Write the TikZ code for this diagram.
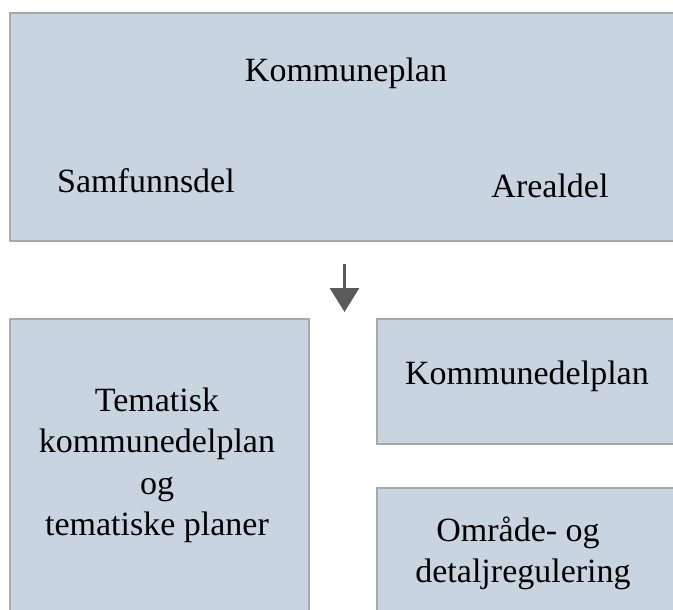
\documentclass[tikz,border=0pt]{standalone}
\usepackage{fontspec}
\setmainfont{Liberation Serif}
\usetikzlibrary{arrows.meta}
\definecolor{boxfill}{HTML}{C8D5E0}
\definecolor{boxline}{HTML}{A8A8A8}
\definecolor{arrowgray}{HTML}{5A5A5A}
\tikzset{
  planbox/.style={draw=boxline, line width=2pt, fill=boxfill, rectangle, inner sep=0pt, anchor=north west},
  label/.style={anchor=base, inner sep=0pt, text=black, font=\fontsize{34}{40}\selectfont},
}
\begin{document}
\begin{tikzpicture}[x=1pt, y=-1pt]
  \useasboundingbox (0,0) rectangle (673,610);
  \clip (0,0) rectangle (673,610);
  \fill[white] (0,0) rectangle (673,610);

  % top box: municipal master plan
  \node[planbox, minimum width=680pt, minimum height=228pt] (kp) at (9,12) {};
  \node[label] (kpt) at (346,82) {Kommuneplan};
  \node[label] (sam) at (146,193) {Samfunnsdel};
  \node[label] (are) at (550,197) {Arealdel};

  % lower boxes
  \node[planbox, minimum width=299pt, minimum height=310pt] (tem) at (9,318) {};
  \node[planbox, minimum width=310pt, minimum height=125pt] (kdp) at (376,318) {};
  \node[planbox, minimum width=310pt, minimum height=140pt] (reg) at (376,487) {};

  \node[label] (t1) at (157,411) {Tematisk};
  \node[label] (t2) at (157,452.5) {kommunedelplan};
  \node[label] (t3) at (157,494) {og};
  \node[label] (t4) at (157,535.5) {tematiske planer};

  \node[label] (kdpt) at (527,384) {Kommunedelplan};

  \node[label] (r1) at (518,541) {Område- og};
  \node[label] (r2) at (523,582) {detaljregulering};

  % arrow between the levels
  \coordinate (as) at (344.5,264);
  \coordinate (ae) at (344.5,312);
  \draw[arrowgray, line width=3pt, -{Triangle[width=29pt,length=24pt]}] (as) -- (ae);
\end{tikzpicture}
\end{document}
